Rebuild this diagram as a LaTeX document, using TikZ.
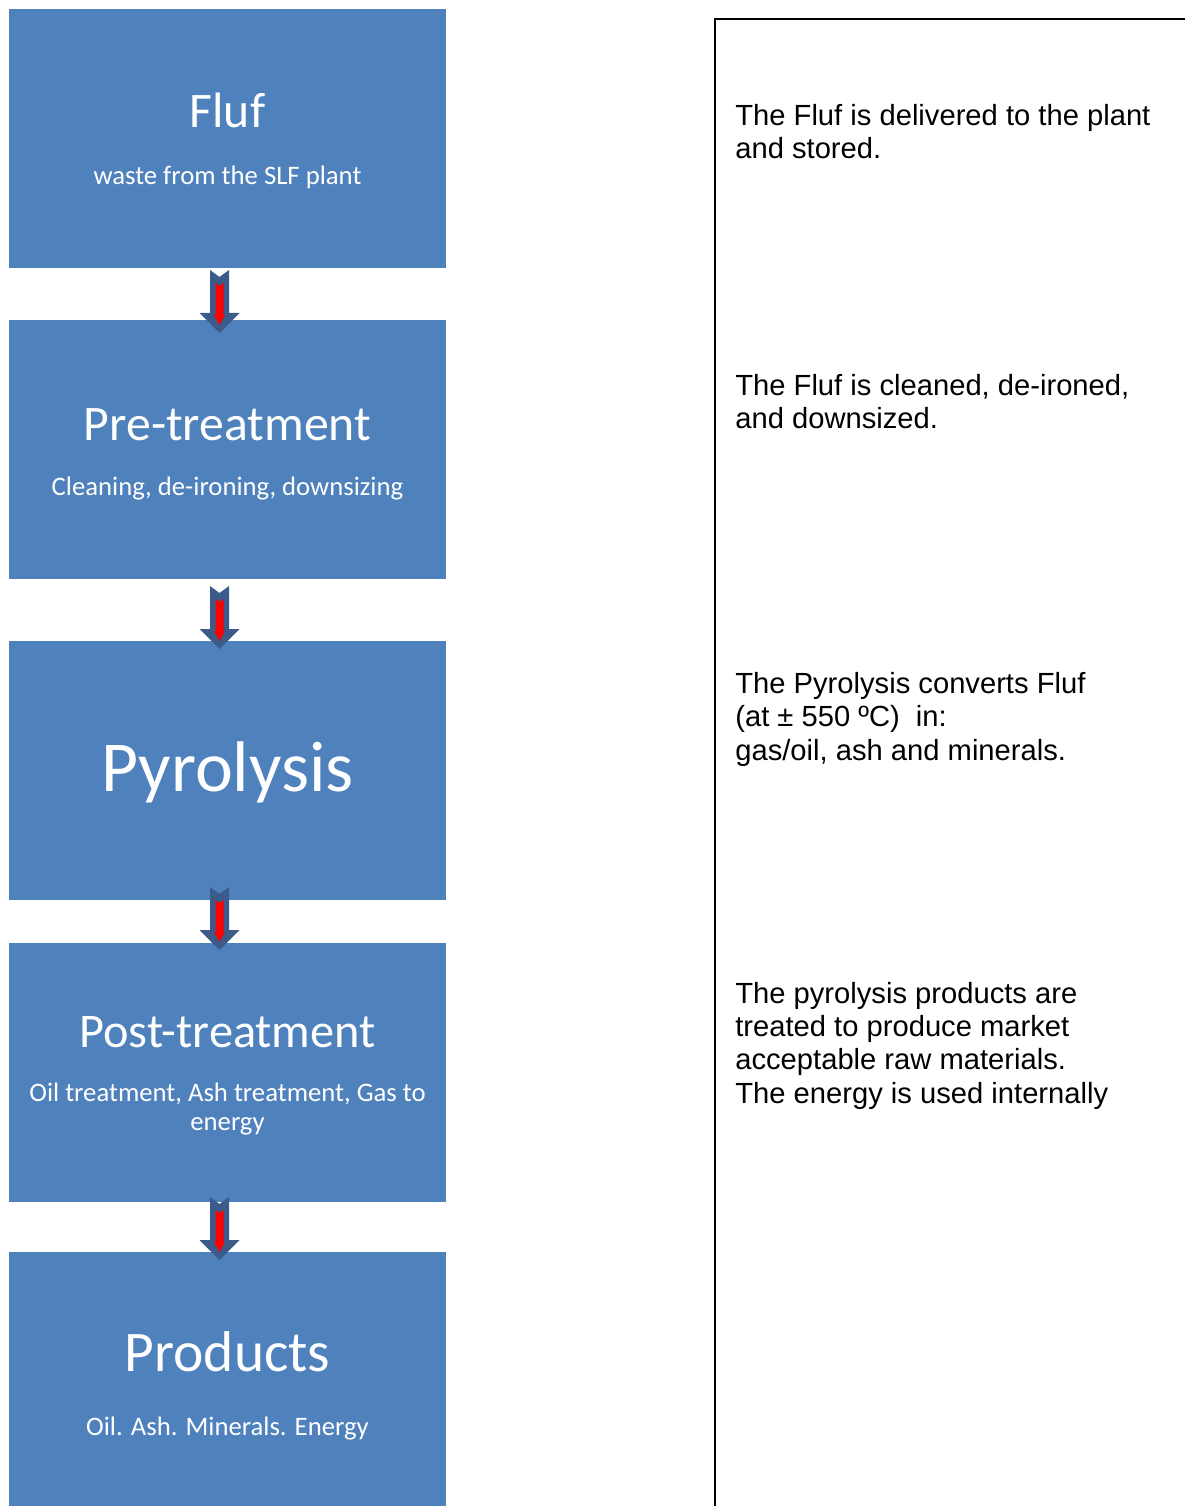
\documentclass[tikz,border=0pt]{standalone}
\usepackage{fontspec}
\setmainfont{Carlito}
\newfontfamily\notefont{Liberation Sans}
\usetikzlibrary{calc}
\definecolor{boxblue}{HTML}{4F81BD}
\definecolor{arrowblue}{HTML}{3B5C8A}
\definecolor{arrowred}{HTML}{FF0000}
\tikzset{
  stage/.style={fill=boxblue, draw=none, minimum width=8.74cm, minimum height=5.18cm, inner sep=0pt},
  stagetitle/.style={text=white, anchor=base, inner sep=0pt, font=\fontsize{28.3}{34}\selectfont},
  stagesub/.style={text=white, anchor=base, inner sep=0pt, align=center, font=\fontsize{15.2}{16.4}\selectfont},
  note/.style={anchor=base west, inner sep=0pt, align=left, font=\notefont\fontsize{16.6}{18.9}\selectfont}
}
% Block arrow between two stages, #1 = vertical nudge
\newcommand{\flowarrow}[3][0]{%
  \coordinate (atop) at ($(#2.south)!0.5!(#3.north)+(-8,-28+#1)$);
  \fill[arrowblue] (atop) ++(-9.5,0) -- ++(9.5,7) -- ++(9.5,-7) -- ++(0,43) -- ++(10.5,0)
    -- ++(-20,20) -- ++(-20,-20) -- ++(10.5,0) -- cycle;
  \fill[arrowred] (atop) ++(-4,13) -- ++(4,3) -- ++(4,-3) -- ++(0,32) -- ++(1.5,0)
    -- ++(-5.5,10) -- ++(-5.5,-10) -- ++(1.5,0) -- cycle;
}
\begin{document}
\begin{tikzpicture}[x=0.02cm, y=-0.02cm]
  % Page window
  \def\xmax{1185} \def\ymax{1506}
  \useasboundingbox (0,0) rectangle (\xmax,\ymax);
  \clip (0,0) rectangle (\xmax,\ymax);

  % Process stages
  \node[stage] (fluf) at (227.5,138.5) {};
  \node[stage] (pre)  at (227.5,449.5) {};
  \node[stage] (pyro) at (227.5,770.5) {};
  \node[stage] (post) at (227.5,1072.5) {};
  \node[stage] (prod) at (227.5,1381.5) {};

  % Stage texts (base = last line)
  \node[stagetitle] (flufT) at ($(fluf.center)+(0,-10.5)$) {Fluf};
  \node[stagesub]   (flufS) at ($(fluf.center)+(0,46.5)$) {waste from the SLF plant};
  \node[stagetitle] (preT)  at ($(pre.center)+(0,-9.5)$) {Pre-treatment};
  \node[stagesub]   (preS)  at ($(pre.center)+(0,46.5)$) {Cleaning, de-ironing, downsizing};
  \node[stagetitle, font=\fontsize{40.8}{48}\selectfont] (pyroT) at ($(pyro.center)+(0,20.5)$) {Pyrolysis};
  \node[stagetitle, font=\fontsize{27.5}{33}\selectfont] (postT) at ($(post.center)+(0,-25.5)$) {Post-treatment};
  \node[stagesub]   (postS) at ($(post.center)+(0,57.5)$) {Oil treatment, Ash treatment, Gas to\\energy};
  \node[stagetitle, font=\fontsize{32.7}{39}\selectfont] (prodT) at ($(prod.center)+(0,-9.8)$) {Products};
  \node[stagesub]   (prodS) at ($(prod.center)+(0,53.5)$) {Oil. Ash. Minerals. Energy};

  % Arrows
  \flowarrow[4]{fluf}{pre}
  \flowarrow[4]{pre}{pyro}
  \flowarrow[-6.5]{pyro}{post}
  \flowarrow[-2]{post}{prod}

  % Notes frame
  \node[draw=black, line width=1.2pt, anchor=north west, minimum width=12cm, minimum height=32cm] (notes) at (714,18) {};

  % Notes, placed at the baseline of their last line
  \node[note] (n1) at (735,158.4) {The Fluf is delivered to the plant\\and stored.};
  \node[note] (n2) at (735,428.4) {The Fluf is cleaned, de-ironed,\\and downsized.};
  \node[note] (n3) at (735,760) {The Pyrolysis converts Fluf\\(at ± 550 ºC)\ \ in:\\gas/oil, ash and minerals.};
  \node[note] (n4) at (735,1103) {The pyrolysis products are\\treated to produce market\\acceptable raw materials.\\The energy is used internally};
\end{tikzpicture}
\end{document}
